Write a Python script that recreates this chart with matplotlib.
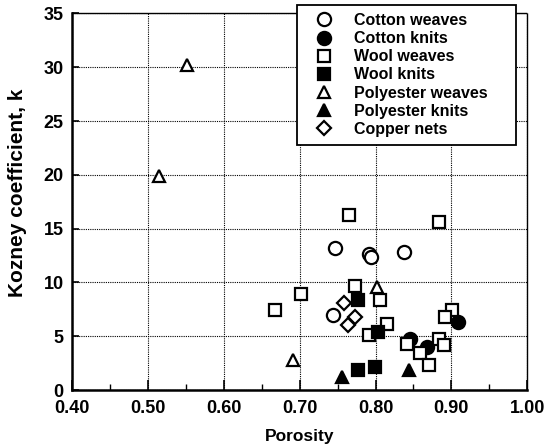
import numpy as np
import matplotlib
matplotlib.use("Agg")
import matplotlib.pyplot as plt
from matplotlib.ticker import MultipleLocator

plt.rcParams['font.family'] = ['Liberation Sans', 'DejaVu Sans']
plt.rcParams['font.weight'] = 'bold'

# ---- data ----
cotton_weaves_x = [0.747, 0.792, 0.794, 0.838, 0.744]
cotton_weaves_y = [13.2, 12.6, 12.4, 12.8, 7.0]

cotton_knits_x = [0.909, 0.846, 0.868]
cotton_knits_y = [6.3, 4.7, 4.0]

wool_weaves_x = [0.765, 0.884, 0.773, 0.702, 0.806, 0.901, 0.891, 0.815,
                 0.792, 0.841, 0.883, 0.890, 0.859, 0.871, 0.667]
wool_weaves_y = [16.3, 15.6, 9.7, 8.9, 8.4, 7.4, 6.8, 6.1,
                 5.1, 4.3, 4.7, 4.2, 3.4, 2.3, 7.4]

wool_knits_x = [0.777, 0.803, 0.777, 0.799]
wool_knits_y = [8.4, 5.4, 1.9, 2.1]

poly_weaves_x = [0.551, 0.514, 0.802, 0.691]
poly_weaves_y = [30.2, 19.9, 9.6, 2.8]

poly_knits_x = [0.756, 0.844]
poly_knits_y = [1.2, 1.9]

copper_x = [0.758, 0.773, 0.764]
copper_y = [8.1, 6.8, 6.0]

x_ticks = [0.40, 0.50, 0.60, 0.70, 0.80, 0.90, 1.00]
x_tick_labels = ["0.40", "0.50", "0.60", "0.70", "0.80", "0.90", "1.00"]
y_ticks = [0, 5, 10, 15, 20, 25, 30, 35]

series = [
    ("Cotton weaves", cotton_weaves_x, cotton_weaves_y, "o", "white"),
    ("Cotton knits", cotton_knits_x, cotton_knits_y, "o", "black"),
    ("Wool weaves", wool_weaves_x, wool_weaves_y, "s", "white"),
    ("Wool knits", wool_knits_x, wool_knits_y, "s", "black"),
    ("Polyester weaves", poly_weaves_x, poly_weaves_y, "^", "white"),
    ("Polyester knits", poly_knits_x, poly_knits_y, "^", "black"),
    ("Copper nets", copper_x, copper_y, "D", "white"),
]

fig = plt.figure(figsize=(5.55, 4.47), dpi=100)
ax = fig.add_axes([0.130, 0.1275, 0.820, 0.8425])

sizes = {"o": 9.5, "s": 9, "^": 9, "D": 7.5}
for label, xs, ys, m, fc in series:
    ax.plot(xs, ys, linestyle="none", marker=m, markersize=sizes[m],
            markerfacecolor=fc, markeredgecolor="black", markeredgewidth=1.6,
            label=label, zorder=3)

ax.set_xticks(x_ticks)
ax.set_xticklabels(x_tick_labels)
ax.set_yticks(y_ticks)
ax.xaxis.set_minor_locator(MultipleLocator(0.05))
ax.set_xlim(0.40, 1.00)
ax.set_ylim(0, 35)

ax.grid(True, which="major", color="black", linestyle=(0, (1, 1)), linewidth=0.8)
ax.set_axisbelow(True)

ax.tick_params(which="major", direction="in", length=7, width=1.2,
               labelsize=13, pad=5)
ax.tick_params(which="minor", direction="in", length=4, width=1.0)
ax.tick_params(axis="x", which="major", pad=7)
ax.tick_params(axis="y", which="major", length=5, pad=6)
for lab in ax.get_xticklabels() + ax.get_yticklabels():
    lab.set_fontweight("bold")

ax.spines["left"].set_linewidth(1.8)
ax.spines["bottom"].set_linewidth(1.8)
for s in ("top", "right"):
    ax.spines[s].set_linewidth(1.0)
    ax.spines[s].set_linestyle((0, (1, 1)))

ax.set_xlabel("Porosity", fontsize=12.5, fontweight="bold")
ax.set_ylabel("Kozney coefficient, k", fontsize=15, fontweight="bold")
ax.xaxis.set_label_coords(0.5, -0.103)
ax.yaxis.set_label_coords(-0.099, 0.524)

leg = fig.legend(loc="upper left", bbox_to_anchor=(0.535, 0.75, 0.395, 0.239),
                 mode="expand", fontsize=11.5, frameon=True, fancybox=False,
                 edgecolor="black", framealpha=1, borderpad=0.5,
                 labelspacing=0.2, handletextpad=0.7, handlelength=2.4,
                 borderaxespad=0, markerscale=1.0)
leg.get_frame().set_linewidth(1.3)
for t in leg.get_texts():
    t.set_fontweight("bold")

fig.savefig("out.png", dpi=100)
